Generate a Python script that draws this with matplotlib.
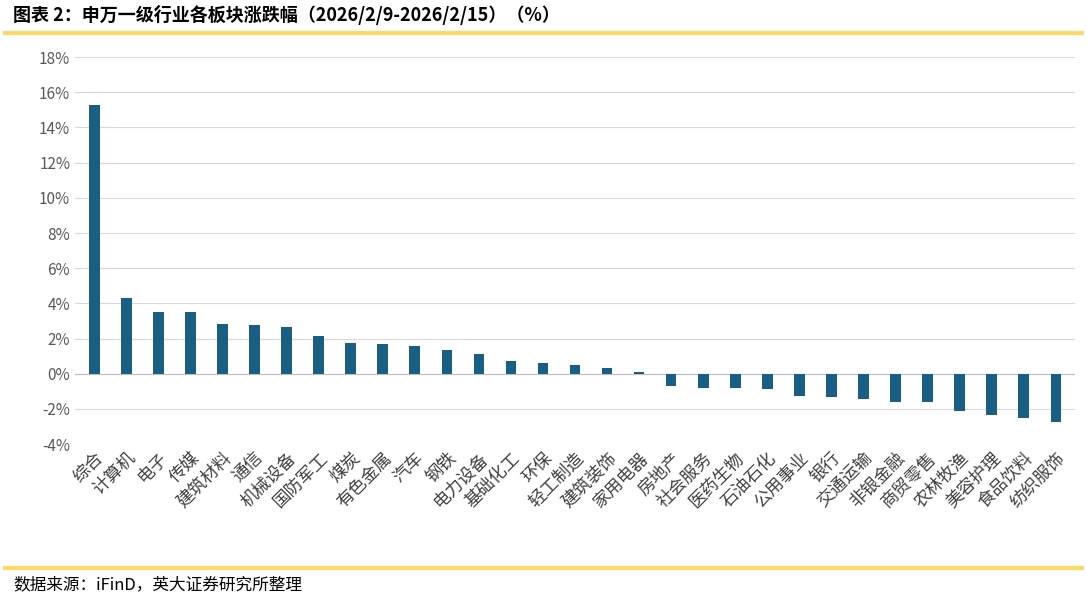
import matplotlib
matplotlib.use("Agg")
import matplotlib.pyplot as plt
from matplotlib.lines import Line2D

plt.rcParams['font.family'] = ['Noto Sans CJK SC', 'DejaVu Sans']

categories = ["综合","计算机","电子","传媒","建筑材料","通信","机械设备","国防军工","煤炭","有色金属",
              "汽车","钢铁","电力设备","基础化工","环保","轻工制造","建筑装饰","家用电器","房地产","社会服务",
              "医药生物","石油石化","公用事业","银行","交通运输","非银金融","商贸零售","农林牧渔","美容护理","食品饮料","纺织服饰"]
values = [15.3,4.3,3.5,3.5,2.85,2.8,2.65,2.15,1.75,1.7,
          1.55,1.35,1.1,0.75,0.6,0.5,0.35,0.1,-0.7,-0.8,
          -0.8,-0.85,-1.25,-1.3,-1.45,-1.6,-1.6,-2.1,-2.35,-2.5,-2.75]
yticks = list(range(-4, 19, 2))

fig = plt.figure(figsize=(10.87, 6.01), dpi=100)
ax = fig.add_axes([0.069, 0.261, 0.92, 0.644])
x = range(len(categories))
ax.bar(x, values, width=0.33, color='#1b5e84', zorder=3)
ax.set_ylim(-4, 18)
ax.set_xlim(-0.6, len(categories) - 0.4)
ax.set_yticks(yticks)
ax.set_yticklabels([f"{t}%" for t in yticks], color='#595959', fontsize=11)
ax.yaxis.grid(True, color='#d9d9d9', linewidth=0.8, zorder=0)
ax.axhline(0, color='#bfbfbf', linewidth=0.8, zorder=2)
for s in ax.spines.values():
    s.set_visible(False)
ax.tick_params(axis='both', length=0)
ax.set_xticks(list(x))
ax.set_xticklabels(categories, rotation=45, ha='right', rotation_mode='anchor',
                   fontsize=12.5, color='#404040')

fig.text(0.012, 0.975, "图表 2：申万一级行业各板块涨跌幅（2026/2/9-2026/2/15）（%）",
         fontsize=13, fontweight='bold', va='center', ha='left', color='#000000')
fig.add_artist(Line2D([0.005, 0.995], [0.945, 0.945], color='#ffd966', linewidth=3, transform=fig.transFigure))
fig.add_artist(Line2D([0.005, 0.995], [0.055, 0.055], color='#ffd966', linewidth=3, transform=fig.transFigure))
fig.text(0.012, 0.027, "数据来源：iFinD，英大证券研究所整理", fontsize=12, va='center', ha='left')

fig.savefig("out.png", dpi=100)
